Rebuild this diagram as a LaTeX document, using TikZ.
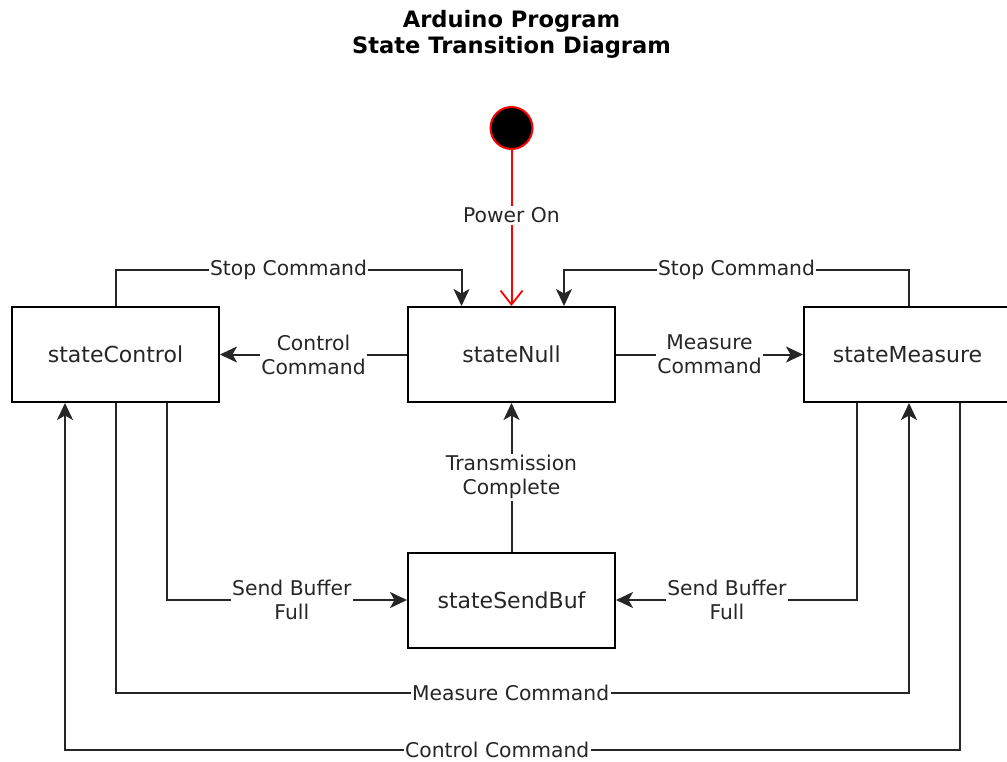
\documentclass[tikz,border=0pt]{standalone}
\usepackage{fontspec}
\setmainfont{DejaVu Sans}
\usetikzlibrary{arrows.meta}
\begin{document}
\begin{tikzpicture}[x=1pt,y=-1pt,
  state/.style={draw=black,line width=2pt,minimum width=207pt,minimum height=95pt,
    font=\fontsize{22}{26}\selectfont,inner sep=0pt,text=black!85},
  conn/.style={draw=black!85,line width=2pt,-{Stealth[length=17pt,width=16pt,inset=4.5pt]}},
  pow/.style={draw=red,line width=2pt,-{Straight Barb[length=14pt,width=22pt,line width=1.8pt]}},
  lbl/.style={fill=white,font=\fontsize{20.3}{24}\selectfont,align=center,inner sep=1.5pt,text=black!85},
  ttl/.style={font=\fontsize{22.6}{26}\selectfont\bfseries,align=center,text=black}]
\useasboundingbox (0,0) rectangle (1007,761);
\node[ttl] (title) at (511.5,34) {Arduino Program\\State Transition Diagram};
\node[circle,fill=black,draw=red,line width=2pt,minimum size=42pt,inner sep=0pt] (init) at (511.5,128) {};
\node[state] (nul) at (511.5,354.5) {stateNull};
\node[state] (ctl) at (115.5,354.5) {stateControl};
\node[state] (mea) at (907.5,354.5) {stateMeasure};
\node[state] (sb) at (511.5,600) {stateSendBuf};
% helper coordinates
\coordinate (nl) at ([xshift=-50pt]nul.north);
\coordinate (nr) at ([xshift=52.5pt]nul.north);
\coordinate (mt) at ([xshift=1.5pt]mea.north);
\coordinate (mb1) at ([xshift=-50.5pt]mea.south);
\coordinate (mb2) at ([xshift=1.5pt]mea.south);
\coordinate (mb3) at ([xshift=52.5pt]mea.south);
\coordinate (cb1) at ([xshift=-50.5pt]ctl.south);
\coordinate (cb3) at ([xshift=51.5pt]ctl.south);
% edges
\draw[pow] (init) -- node[lbl,pos=0.42]{Power On} (nul.north);
\draw[conn] (ctl.north) -- (ctl.north |- 0,270) -- node[lbl]{Stop Command} (nl |- 0,270) -- (nl);
\draw[conn] (mt) -- (mt |- 0,270) -- node[lbl]{Stop Command} (nr |- 0,270) -- (nr);
\draw[conn] (nul.west) -- node[lbl]{Control\\Command} (ctl.east);
\draw[conn] (nul.east) -- node[lbl]{Measure\\Command} (mea.west);
\draw[conn] (sb.north) -- node[lbl]{Transmission\\Complete} (nul.south);
\draw[conn] (cb3) |- node[lbl,pos=0.76]{Send Buffer\\Full} (sb.west);
\draw[conn] (mb1) |- node[lbl,pos=0.77]{Send Buffer\\Full} (sb.east);
\draw[conn] (ctl.south) -- (ctl.south |- 0,693) -- node[lbl,pos=0.498]{Measure Command} (mb2 |- 0,693) -- (mb2);
\draw[conn] (mb3) -- (mb3 |- 0,750) -- node[lbl,pos=0.517]{Control Command} (cb1 |- 0,750) -- (cb1);
\end{tikzpicture}
\end{document}
